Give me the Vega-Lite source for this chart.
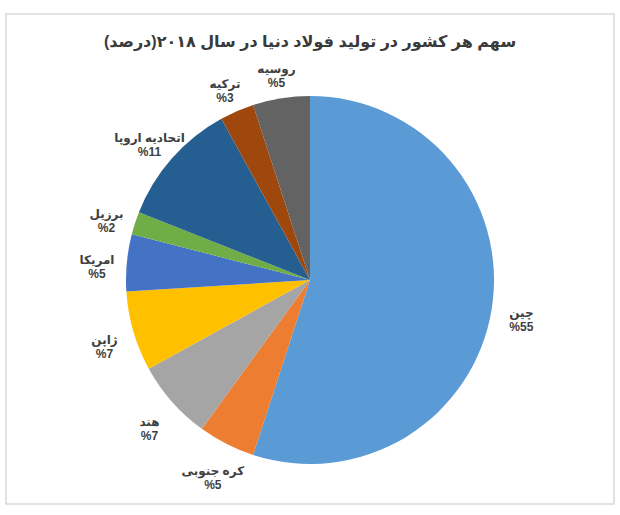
{
  "$schema": "https://vega.github.io/schema/vega-lite/v6.json",
  "width": 620,
  "height": 515,
  "autosize": {"type": "fit", "contains": "padding"},
  "padding": {"left": 6, "top": 14, "right": 6, "bottom": 11},
  "background": "white",
  "view": {"stroke": "#d9d9d9", "strokeWidth": 1.5, "fill": "white"},
  "title": {
    "text": "\u200fسهم هر کشور در تولید فولاد دنیا در سال ۲۰۱۸(درصد)\u200f",
    "font": "Liberation Sans, DejaVu Sans",
    "fontSize": 16,
    "fontWeight": "bold",
    "color": "#3a3a3a",
    "anchor": "middle",
    "offset": -36
  },
  "data": {
    "values": [
      {"order": 1, "country": "چین", "share": 55, "label": "چین\n%55"},
      {"order": 2, "country": "کره جنوبی", "share": 5, "label": "کره جنوبی\n%5"},
      {"order": 3, "country": "هند", "share": 7, "label": "هند\n%7"},
      {"order": 4, "country": "ژاپن", "share": 7, "label": "ژاپن\n%7"},
      {"order": 5, "country": "امریکا", "share": 5, "label": "امریکا\n%5"},
      {"order": 6, "country": "برزیل", "share": 2, "label": "برزیل\n%2"},
      {"order": 7, "country": "اتحادیه اروپا", "share": 11, "label": "اتحادیه اروپا\n%11"},
      {"order": 8, "country": "ترکیه", "share": 3, "label": "ترکیه\n%3"},
      {"order": 9, "country": "روسیه", "share": 5, "label": "روسیه\n%5"}
    ]
  },
  "encoding": {
    "theta": {"field": "share", "type": "quantitative", "stack": true},
    "order": {"field": "order", "type": "quantitative", "sort": "ascending"}
  },
  "layer": [
    {
      "mark": {"type": "arc", "outerRadius": 184, "y": {"expr": "height/2 + 21"}},
      "encoding": {
        "color": {
          "field": "country",
          "type": "nominal",
          "sort": {"field": "order"},
          "scale": {
            "domain": ["چین", "کره جنوبی", "هند", "ژاپن", "امریکا", "برزیل", "اتحادیه اروپا", "ترکیه", "روسیه"],
            "range": ["#5B9BD5", "#ED7D31", "#A5A5A5", "#FFC000", "#4472C4", "#70AD47", "#255E91", "#9E480E", "#636363"]
          },
          "legend": null
        }
      }
    },
    {
      "mark": {
        "type": "text",
        "radius": 214,
        "y": {"expr": "height/2 + 21"},
        "lineBreak": "\n",
        "font": "Liberation Sans, DejaVu Sans",
        "fontSize": 12,
        "fontWeight": "bold",
        "color": "#404040",
        "align": "center",
        "baseline": "middle",
        "lineHeight": 14
      },
      "encoding": {
        "text": {"field": "label", "type": "nominal"}
      }
    }
  ]
}
